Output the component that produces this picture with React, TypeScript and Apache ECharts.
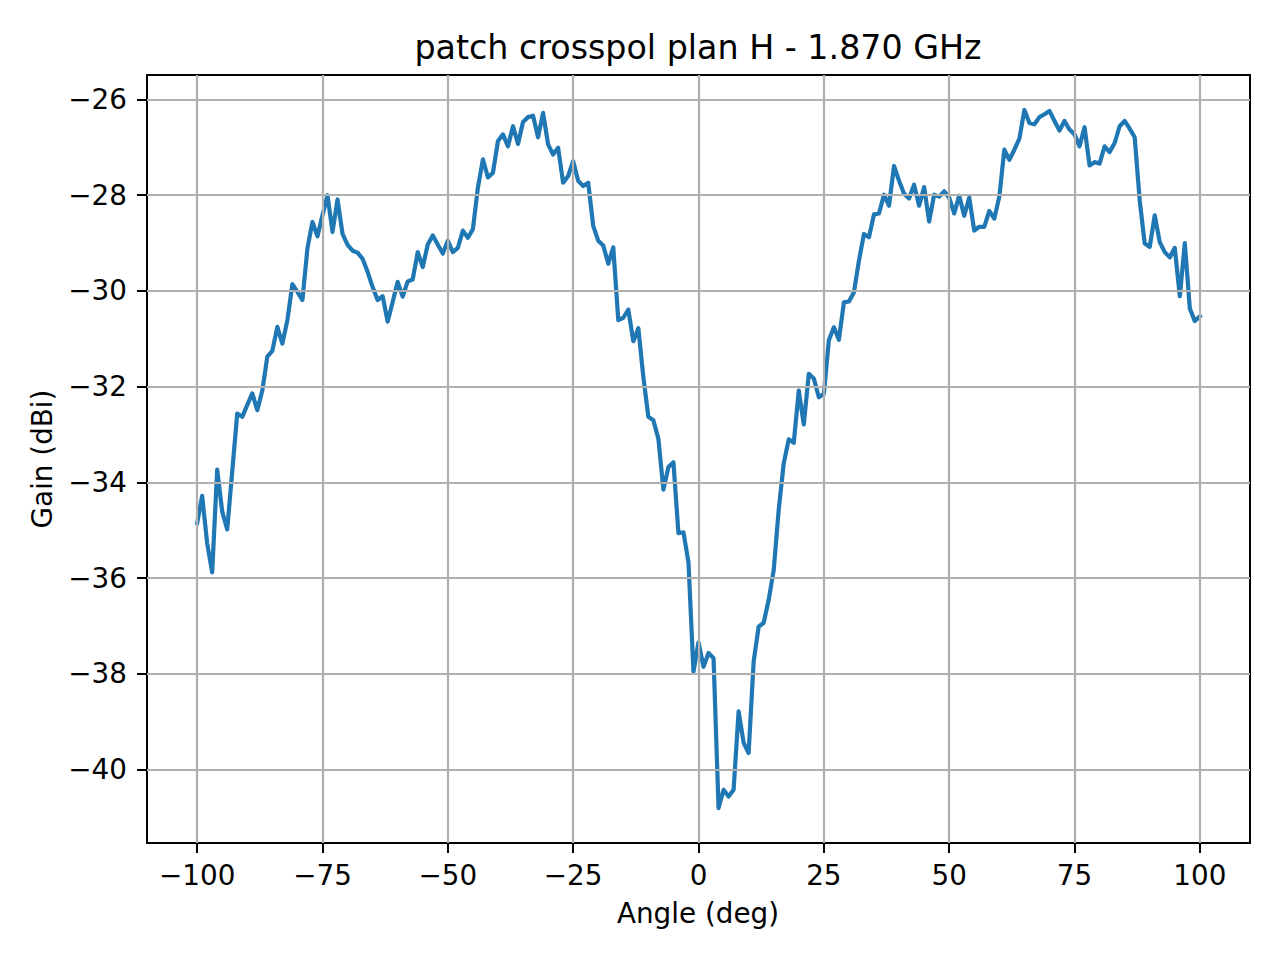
import React, { useEffect, useRef } from 'react';
import * as echarts from 'echarts';

const TITLE = 'patch crosspol plan H - 1.870 GHz';
const X_NAME = 'Angle (deg)';
const Y_NAME = 'Gain (dBi)';

// measurement was taken every 1 degree from -100 to 100
const ANGLE_START = -100;
const ANGLE_STEP = 1;

const gainDbi = [
  -34.85, -34.28, -35.27, -35.88, -33.73, -34.61, -34.98, -33.77, -32.56, -32.63,
  -32.38, -32.14, -32.49, -32.08, -31.37, -31.25, -30.75, -31.10, -30.61, -29.86,
  -30.02, -30.19, -29.11, -28.56, -28.86, -28.42, -28.00, -28.77, -28.09, -28.81,
  -29.04, -29.16, -29.20, -29.33, -29.60, -29.92, -30.19, -30.11, -30.64, -30.23,
  -29.81, -30.12, -29.80, -29.76, -29.19, -29.50, -29.03, -28.84, -29.03, -29.22,
  -28.95, -29.19, -29.10, -28.74, -28.89, -28.71, -27.84, -27.25, -27.63, -27.53,
  -26.87, -26.73, -26.98, -26.56, -26.93, -26.47, -26.37, -26.34, -26.79, -26.28,
  -26.94, -27.15, -27.01, -27.74, -27.60, -27.29, -27.70, -27.81, -27.74, -28.64,
  -28.95, -29.05, -29.43, -29.09, -30.61, -30.56, -30.39, -31.05, -30.78, -31.80,
  -32.63, -32.70, -33.09, -34.15, -33.68, -33.58, -35.06, -35.04, -35.67, -37.95,
  -37.34, -37.85, -37.56, -37.67, -40.80, -40.42, -40.56, -40.42, -38.78, -39.44,
  -39.65, -37.74, -37.01, -36.93, -36.45, -35.83, -34.57, -33.60, -33.10, -33.17,
  -32.08, -32.79, -31.73, -31.83, -32.22, -32.15, -31.03, -30.76, -31.02, -30.24,
  -30.22, -30.03, -29.37, -28.81, -28.88, -28.40, -28.38, -27.99, -28.22, -27.39,
  -27.70, -27.97, -28.07, -27.78, -28.22, -27.83, -28.55, -27.99, -28.03, -27.92,
  -28.05, -28.38, -28.01, -28.43, -28.05, -28.74, -28.66, -28.66, -28.33, -28.49,
  -28.03, -27.05, -27.26, -27.05, -26.82, -26.22, -26.49, -26.52, -26.37, -26.31,
  -26.24, -26.45, -26.65, -26.45, -26.63, -26.73, -26.98, -26.58, -27.38, -27.31,
  -27.34, -26.98, -27.10, -26.91, -26.56, -26.45, -26.61, -26.79, -28.11, -29.01,
  -29.08, -28.42, -28.98, -29.19, -29.30, -29.10, -30.11, -29.00, -30.37, -30.63,
  -30.53,
];

const xTicks = [-100, -75, -50, -25, 0, 25, 50, 75, 100];
const yTicks = [-40, -38, -36, -34, -32, -30, -28, -26];

const X_MIN = -110;
const X_MAX = 110;
const Y_MIN = -41.53;
const Y_MAX = -25.49;

const FONT = '"DejaVu Sans", "Liberation Sans", sans-serif';
const minus = (v: number) => String(v).replace('-', '\u2212');

export default function App() {
  const chartRef = useRef<HTMLDivElement>(null);

  useEffect(() => {
    if (!chartRef.current) return;
    const chart = echarts.init(chartRef.current, undefined, { renderer: 'svg' });

    const tickStyle = { color: '#000', width: 2 };
    const labelStyle = { color: '#000', fontFamily: FONT, fontSize: 27.8 };

    chart.setOption({
      animation: false,
      backgroundColor: '#fff',
      grid: {
        left: 147,
        right: 30,
        top: 75,
        bottom: 117,
        show: true,
        borderColor: '#000',
        borderWidth: 2,
        backgroundColor: 'transparent',
      },
      xAxis: {
        type: 'value',
        min: X_MIN,
        max: X_MAX,
        splitLine: { show: false },
        axisLine: { show: true, onZero: false, lineStyle: tickStyle },
        axisTick: { show: true, inside: false, length: 10, lineStyle: tickStyle, customValues: xTicks },
        axisLabel: { ...labelStyle, margin: 18, customValues: xTicks, formatter: minus },
      },
      yAxis: {
        type: 'value',
        min: Y_MIN,
        max: Y_MAX,
        splitLine: { show: false },
        axisLine: { show: true, onZero: false, lineStyle: tickStyle },
        axisTick: { show: true, inside: false, length: 10, lineStyle: tickStyle, customValues: yTicks },
        axisLabel: { ...labelStyle, margin: 20, customValues: yTicks, formatter: minus },
      },
      graphic: [
        {
          type: 'text',
          x: 698,
          y: 47,
          style: {
            text: TITLE,
            fill: '#000',
            fontFamily: FONT,
            fontSize: 33.3,
            align: 'center',
            verticalAlign: 'middle',
            textAlign: 'center',
            textVerticalAlign: 'middle',
          },
        },
        {
          type: 'text',
          x: 698,
          y: 913,
          style: {
            text: X_NAME,
            fill: '#000',
            fontFamily: FONT,
            fontSize: 27.8,
            align: 'center',
            verticalAlign: 'middle',
            textAlign: 'center',
            textVerticalAlign: 'middle',
          },
        },
        {
          type: 'text',
          x: 42,
          y: 459,
          rotation: Math.PI / 2,
          style: {
            text: Y_NAME,
            fill: '#000',
            fontFamily: FONT,
            fontSize: 27.8,
            align: 'center',
            verticalAlign: 'middle',
            textAlign: 'center',
            textVerticalAlign: 'middle',
          },
        },
      ],
      series: [
        {
          // grid lines, kept below the curve
          type: 'line',
          data: [],
          z: 1,
          silent: true,
          markLine: {
            silent: true,
            symbol: 'none',
            label: { show: false },
            lineStyle: { color: '#b0b0b0', width: 2.2, type: 'solid' },
            emphasis: { disabled: true },
            data: [
              ...xTicks.map((v) => ({ xAxis: v })),
              ...yTicks.map((v) => ({ yAxis: v })),
            ],
          },
        },
        {
          type: 'line',
          z: 3,
          data: gainDbi.map((g, i) => [ANGLE_START + i * ANGLE_STEP, g]),
          symbol: 'none',
          showSymbol: false,
          lineStyle: { color: '#1f77b4', width: 4.2, cap: 'square', join: 'round' },
          emphasis: { disabled: true },
        },
      ],
    });

    return () => {
      chart.dispose();
    };
  }, []);

  return (
    <div
      ref={chartRef}
      style={{ position: 'absolute', left: 0, top: 0, width: 1280, height: 960 }}
    />
  );
}
